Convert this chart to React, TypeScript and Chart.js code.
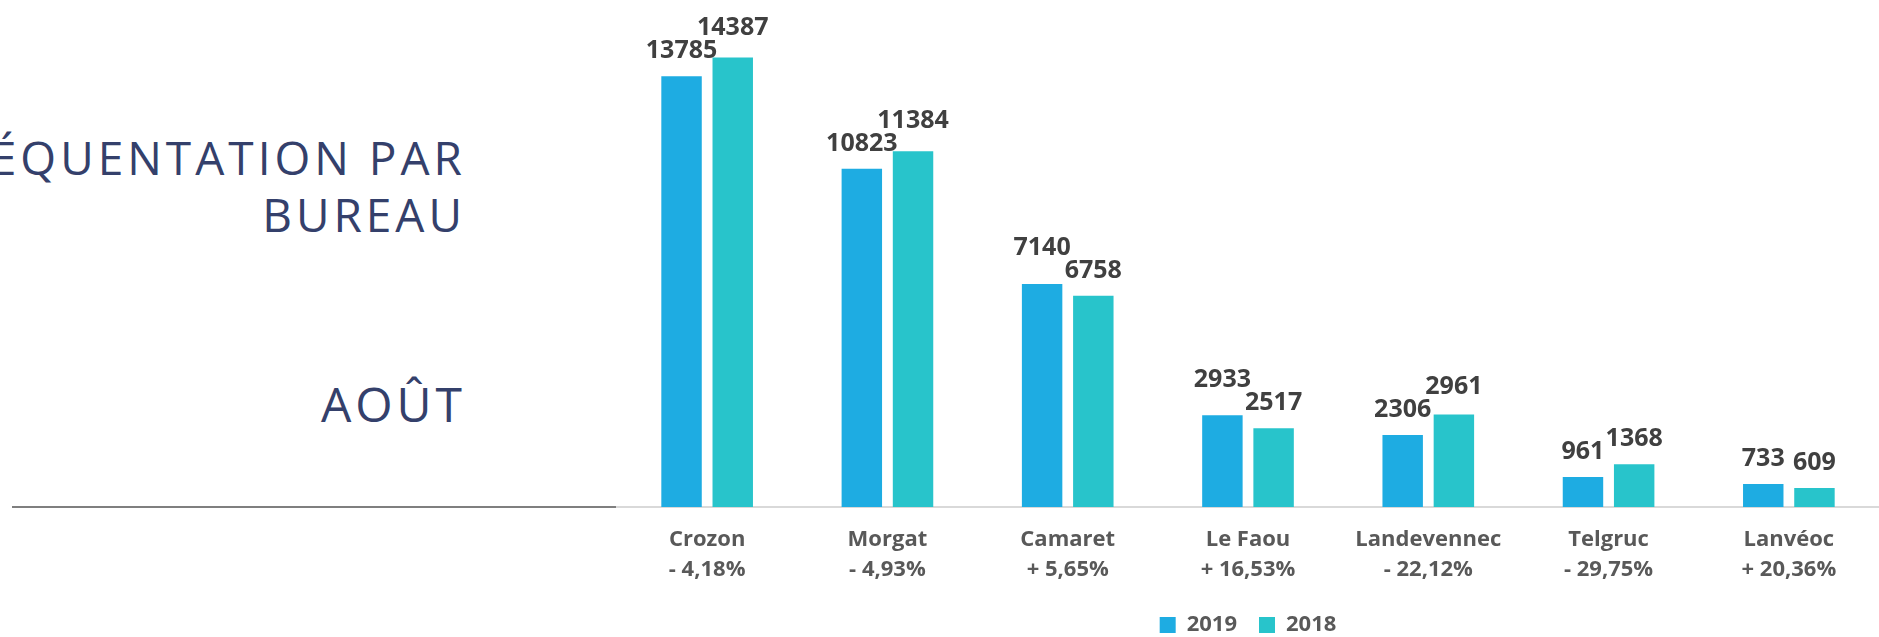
import React, { useEffect, useRef } from 'react';
import { Chart, registerables } from 'chart.js';

Chart.register(...registerables);

const categories = ['Crozon', 'Morgat', 'Camaret', 'Le Faou', 'Landevennec', 'Telgruc', 'Lanvéoc'];
const changes = ['- 4,18%', '- 4,93%', '+ 5,65%', '+ 16,53%', '- 22,12%', '- 29,75%', '+ 20,36%'];
const values2019 = [13785, 10823, 7140, 2933, 2306, 961, 733];
const values2018 = [14387, 11384, 6758, 2517, 2961, 1368, 609];
const seriesNames = ['2019', '2018'];
const yMax = 16000;

const FONT = '"Open Sans", "Noto Sans", sans-serif';
const LABEL_GAP = 18;
const LABEL_MIN_SEP = 23;

const valueLabels = {
  id: 'valueLabels',
  afterDatasetsDraw(chart: any) {
    const ctx = chart.ctx;
    ctx.save();
    ctx.font = `bold 25px ${FONT}`;
    ctx.fillStyle = '#404040';
    ctx.textAlign = 'center';
    ctx.textBaseline = 'alphabetic';
    const metas = chart.data.datasets.map((_: any, di: number) => chart.getDatasetMeta(di));
    const n = chart.data.labels.length;
    for (let i = 0; i < n; i++) {
      const items = metas.map((m: any, di: number) => {
        const el = m.data[i];
        const text = String(chart.data.datasets[di].data[i]);
        const w = ctx.measureText(text).width;
        return { text, x: el.x, y: el.y - LABEL_GAP, w };
      });
      if (items.length === 2) {
        const [a, b] = items;
        const overlap =
          Math.min(a.x + a.w / 2, b.x + b.w / 2) - Math.max(a.x - a.w / 2, b.x - b.w / 2);
        if (overlap > 0 && Math.abs(a.y - b.y) < LABEL_MIN_SEP) {
          if (a.y < b.y) a.y = b.y - LABEL_MIN_SEP;
          else b.y = a.y - LABEL_MIN_SEP;
        }
      }
      items.forEach((it: any) => ctx.fillText(it.text, it.x, it.y));
    }
    ctx.restore();
  },
};

export default function App() {
  const ref = useRef<HTMLCanvasElement | null>(null);

  useEffect(() => {
    document.documentElement.style.overflow = 'hidden';
    document.body.style.margin = '0';
    const canvas = ref.current;
    if (!canvas) return;
    const chart = new Chart(canvas, {
      type: 'bar',
      data: {
        labels: categories.map((c, i) => [c, changes[i]]),
        datasets: [
          {
            label: seriesNames[0],
            data: values2019,
            backgroundColor: '#1EACE2',
            borderWidth: 0,
            categoryPercentage: 0.568,
            barPercentage: 0.79,
          },
          {
            label: seriesNames[1],
            data: values2018,
            backgroundColor: '#28C4CB',
            borderWidth: 0,
            categoryPercentage: 0.568,
            barPercentage: 0.79,
          },
        ],
      },
      options: {
        animation: false,
        responsive: false,
        maintainAspectRatio: false,
        layout: { padding: { left: 617, right: 0, top: 7, bottom: 0 } },
        plugins: {
          legend: {
            position: 'bottom',
            labels: {
              boxWidth: 16,
              boxHeight: 16,
              padding: 22,
              color: '#595959',
              font: { family: FONT, size: 22, weight: 'bold' },
            },
          },
          tooltip: { enabled: false },
        },
        scales: {
          x: {
            grid: { display: false, drawTicks: false },
            border: { display: true, color: '#D9D9D9', width: 2 },
            ticks: {
              padding: 18,
              color: '#595959',
              maxRotation: 0,
              autoSkip: false,
              font: { family: FONT, size: 22, weight: 'bold', lineHeight: 30 / 22 },
            },
            afterFit: (scale: any) => {
              scale.height = 85;
            },
          },
          y: { display: false, min: 0, max: yMax },
        },
      },
      plugins: [valueLabels],
    } as any);
    return () => chart.destroy();
  }, []);

  const titleStyle: React.CSSProperties = {
    position: 'absolute',
    right: 1879 - 466,
    whiteSpace: 'nowrap',
    textAlign: 'right',
    fontFamily: FONT,
    fontWeight: 400,
    color: '#34406B',
    letterSpacing: '4px',
  };

  return (
    <div
      style={{
        position: 'fixed',
        left: 0,
        top: 0,
        width: 1879,
        height: 646,
        background: '#ffffff',
        overflow: 'hidden',
      }}
    >
      <div style={{ ...titleStyle, top: 134, fontSize: 46, lineHeight: '46px' }}>FRÉQUENTATION PAR</div>
      <div style={{ ...titleStyle, top: 191, fontSize: 46, lineHeight: '46px' }}>BUREAU</div>
      <div style={{ ...titleStyle, top: 380, fontSize: 48, lineHeight: '48px' }}>AOÛT</div>
      <div
        style={{
          position: 'absolute',
          left: 12,
          top: 506,
          width: 605,
          height: 2,
          background: '#7F7F7F',
        }}
      />
      <canvas
        ref={ref}
        width={1879}
        height={646}
        style={{ position: 'absolute', left: 0, top: 0, display: 'block' }}
      />
    </div>
  );
}
